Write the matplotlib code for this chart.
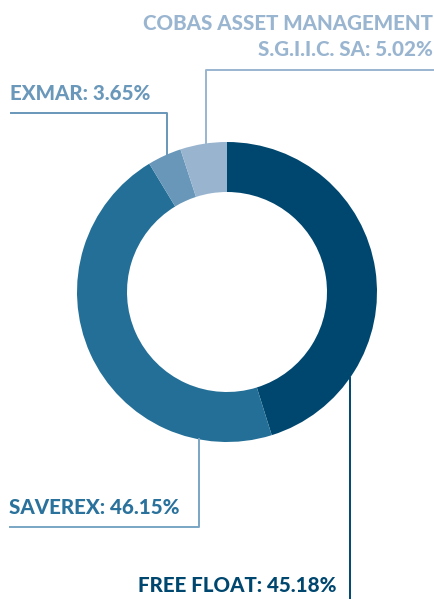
import matplotlib
matplotlib.use("Agg")
import matplotlib.pyplot as plt
import numpy as np

labels = ["FREE FLOAT", "SAVEREX", "EXMAR", "COBAS ASSET MANAGEMENT\nS.G.I.I.C. SA"]
values = [45.18, 46.15, 3.65, 5.02]
colors = ["#00476f", "#236f97", "#6897b9", "#98b4cf"]
text_colors = ["#00476f", "#2a729c", "#6a98ba", "#9ab5d0"]

W, H = 434, 599
fig = plt.figure(figsize=(W / 100, H / 100), dpi=100)
ax = fig.add_axes([0, 0, 1, 1])

cx, cy, R = 227, H - 292, 150
ax.pie(values, colors=colors, radius=R, center=(cx, cy), startangle=90,
       counterclock=False, wedgeprops=dict(width=50, linewidth=0), frame=True)
ax.set_xlim(0, W)
ax.set_ylim(0, H)
ax.set_aspect("equal")
ax.axis("off")

font = dict(family=["Lato", "DejaVu Sans"], weight="black")
fs = 14.8
lw = 1.4

def ring_y(x, top=True):
    d = np.sqrt(max(R**2 - (x - cx) ** 2, 0))
    return cy + d if top else cy - d

def fmt(i):
    return f"{labels[i]}: {values[i]:.2f}%"

# COBAS
ax.plot([434, 206, 206], [H - 69.5, H - 69.5, ring_y(206)], color=colors[3], lw=lw)
ax.text(433, H - 23.5, "COBAS ASSET MANAGEMENT", ha="right", va="center",
        color=text_colors[3], fontsize=fs, **font)
ax.text(433, H - 50, f"S.G.I.I.C. SA: {values[3]:.2f}%", ha="right", va="center",
        color=text_colors[3], fontsize=fs, **font)

# EXMAR
ax.plot([11, 167, 167], [H - 113, H - 113, ring_y(167)], color=colors[2], lw=lw)
ax.text(10, H - 94, fmt(2), ha="left", va="center", color=text_colors[2],
        fontsize=fs, **font)

# SAVEREX
ax.plot([10, 199, 199], [H - 527, H - 527, ring_y(199, top=False)], color="#7aa6c4", lw=lw)
ax.text(9, H - 507, fmt(1), ha="left", va="center", color=text_colors[1],
        fontsize=fs, **font)

# FREE FLOAT
ax.plot([350, 350], [0, ring_y(350, top=False)], color=colors[0], lw=lw)
ax.text(337, H - 585, fmt(0), ha="right", va="center", color=text_colors[0],
        fontsize=fs, **font)

fig.savefig("out.png", dpi=100, facecolor="white")
